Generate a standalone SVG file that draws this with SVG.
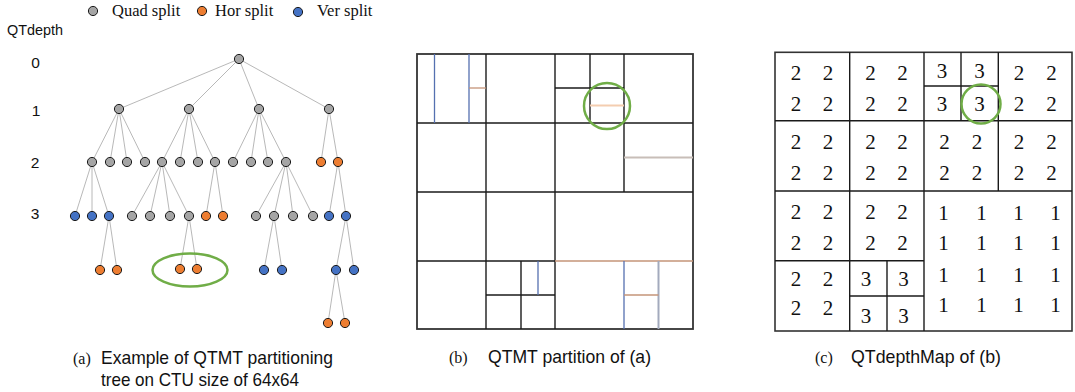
<svg xmlns="http://www.w3.org/2000/svg" width="1075" height="392" viewBox="0 0 1075 392">
<style>
.q{fill:#a5a5a5;stroke:#1a1a1a;stroke-width:1}
.h{fill:#ed7d31;stroke:#1a1a1a;stroke-width:1}
.v{fill:#4472c4;stroke:#1a1a1a;stroke-width:1}
.e{stroke:#a6a6a6;stroke-width:0.8;fill:none}
.lg{font-family:"Liberation Serif",serif;font-size:16.5px;fill:#111}
.sans{font-family:"Liberation Sans",Arial,sans-serif;fill:#111}
.k{stroke:#1a1a1a;stroke-width:1.4;fill:none}
.bl{stroke:#5570b0;stroke-width:1.3;fill:none}
.or{stroke:#c49478;stroke-width:1.3;fill:none}
.gc{stroke:#70ad47;stroke-width:2.5;fill:none}
.d{font-family:"Liberation Serif",serif;font-size:21px;fill:#111;text-anchor:middle}
.cap{font-family:"Liberation Sans",Arial,sans-serif;font-size:19px;fill:#111}
.capl{font-family:"Liberation Serif",serif;font-size:16px;fill:#111}
</style>

<g id="legend">
<circle class="q" cx="93" cy="11" r="4.6"/><text class="lg" x="112" y="16">Quad split</text>
<circle class="h" cx="202" cy="11" r="4.6"/><text class="lg" x="215" y="16">Hor split</text>
<circle class="v" cx="298" cy="12" r="4.6"/><text class="lg" x="317" y="16">Ver split</text>
</g>

<g id="depth-labels" class="sans" font-size="15.5">
<text x="7" y="35" textLength="56" lengthAdjust="spacingAndGlyphs">QTdepth</text>
<text x="35.5" y="67.5" text-anchor="middle">0</text>
<text x="36" y="115.5" text-anchor="middle">1</text>
<text x="35" y="167.5" text-anchor="middle">2</text>
<text x="35" y="218.5" text-anchor="middle">3</text>
</g>

<g id="tree-edges">
<line class="e" x1="239" y1="59" x2="119" y2="109"/>
<line class="e" x1="239" y1="59" x2="189" y2="109"/>
<line class="e" x1="239" y1="59" x2="259" y2="109"/>
<line class="e" x1="239" y1="59" x2="329" y2="109"/>
<line class="e" x1="119" y1="109" x2="92" y2="162"/>
<line class="e" x1="119" y1="109" x2="110" y2="162"/>
<line class="e" x1="119" y1="109" x2="127" y2="162"/>
<line class="e" x1="119" y1="109" x2="145" y2="162"/>
<line class="e" x1="189" y1="109" x2="162" y2="162"/>
<line class="e" x1="189" y1="109" x2="180" y2="162"/>
<line class="e" x1="189" y1="109" x2="198" y2="162"/>
<line class="e" x1="189" y1="109" x2="215" y2="162"/>
<line class="e" x1="259" y1="109" x2="233" y2="162"/>
<line class="e" x1="259" y1="109" x2="251" y2="162"/>
<line class="e" x1="259" y1="109" x2="268" y2="162"/>
<line class="e" x1="259" y1="109" x2="286" y2="162"/>
<line class="e" x1="329" y1="109" x2="321" y2="162"/>
<line class="e" x1="329" y1="109" x2="338" y2="162"/>
<line class="e" x1="92" y1="162" x2="75" y2="216"/>
<line class="e" x1="92" y1="162" x2="92" y2="216"/>
<line class="e" x1="92" y1="162" x2="109" y2="216"/>
<line class="e" x1="162" y1="162" x2="132" y2="216"/>
<line class="e" x1="162" y1="162" x2="150" y2="216"/>
<line class="e" x1="162" y1="162" x2="170" y2="216"/>
<line class="e" x1="162" y1="162" x2="189" y2="216"/>
<line class="e" x1="215" y1="162" x2="206" y2="216"/>
<line class="e" x1="215" y1="162" x2="223" y2="216"/>
<line class="e" x1="286" y1="162" x2="256" y2="216"/>
<line class="e" x1="286" y1="162" x2="274" y2="216"/>
<line class="e" x1="286" y1="162" x2="293" y2="216"/>
<line class="e" x1="286" y1="162" x2="313" y2="216"/>
<line class="e" x1="338" y1="162" x2="329" y2="216"/>
<line class="e" x1="338" y1="162" x2="346" y2="216"/>
<line class="e" x1="109" y1="216" x2="100" y2="270"/>
<line class="e" x1="109" y1="216" x2="117" y2="270"/>
<line class="e" x1="189" y1="216" x2="180" y2="269"/>
<line class="e" x1="189" y1="216" x2="197" y2="269"/>
<line class="e" x1="274" y1="216" x2="264" y2="270"/>
<line class="e" x1="274" y1="216" x2="282" y2="270"/>
<line class="e" x1="346" y1="216" x2="336" y2="270"/>
<line class="e" x1="346" y1="216" x2="354" y2="270"/>
<line class="e" x1="336" y1="270" x2="328" y2="323"/>
<line class="e" x1="336" y1="270" x2="345" y2="323"/>
</g>

<g id="tree-nodes">
<g id="n0"><circle class="q" cx="239" cy="59" r="4.6"/></g>
<g id="n1-0"><circle class="q" cx="119" cy="109" r="4.6"/></g>
<g id="n1-1"><circle class="q" cx="189" cy="109" r="4.6"/></g>
<g id="n1-2"><circle class="q" cx="259" cy="109" r="4.6"/></g>
<g id="n1-3"><circle class="q" cx="329" cy="109" r="4.6"/></g>
<g id="n2-0"><circle class="q" cx="92" cy="162" r="4.6"/></g>
<g id="n2-1"><circle class="q" cx="110" cy="162" r="4.6"/></g>
<g id="n2-2"><circle class="q" cx="127" cy="162" r="4.6"/></g>
<g id="n2-3"><circle class="q" cx="145" cy="162" r="4.6"/></g>
<g id="n2-4"><circle class="q" cx="162" cy="162" r="4.6"/></g>
<g id="n2-5"><circle class="q" cx="180" cy="162" r="4.6"/></g>
<g id="n2-6"><circle class="q" cx="198" cy="162" r="4.6"/></g>
<g id="n2-7"><circle class="q" cx="215" cy="162" r="4.6"/></g>
<g id="n2-8"><circle class="q" cx="233" cy="162" r="4.6"/></g>
<g id="n2-9"><circle class="q" cx="251" cy="162" r="4.6"/></g>
<g id="n2-10"><circle class="q" cx="268" cy="162" r="4.6"/></g>
<g id="n2-11"><circle class="q" cx="286" cy="162" r="4.6"/></g>
<g id="n2-12"><circle class="h" cx="321" cy="162" r="4.6"/></g>
<g id="n2-13"><circle class="h" cx="338" cy="162" r="4.6"/></g>
<g id="n3-0"><circle class="v" cx="75" cy="216" r="4.6"/></g>
<g id="n3-1"><circle class="v" cx="92" cy="216" r="4.6"/></g>
<g id="n3-2"><circle class="v" cx="109" cy="216" r="4.6"/></g>
<g id="n3-3"><circle class="q" cx="132" cy="216" r="4.6"/></g>
<g id="n3-4"><circle class="q" cx="150" cy="216" r="4.6"/></g>
<g id="n3-5"><circle class="q" cx="170" cy="216" r="4.6"/></g>
<g id="n3-6"><circle class="q" cx="189" cy="216" r="4.6"/></g>
<g id="n3-7"><circle class="h" cx="206" cy="216" r="4.6"/></g>
<g id="n3-8"><circle class="h" cx="223" cy="216" r="4.6"/></g>
<g id="n3-9"><circle class="q" cx="256" cy="216" r="4.6"/></g>
<g id="n3-10"><circle class="q" cx="274" cy="216" r="4.6"/></g>
<g id="n3-11"><circle class="q" cx="293" cy="216" r="4.6"/></g>
<g id="n3-12"><circle class="q" cx="313" cy="216" r="4.6"/></g>
<g id="n3-13"><circle class="v" cx="329" cy="216" r="4.6"/></g>
<g id="n3-14"><circle class="v" cx="346" cy="216" r="4.6"/></g>
<g id="n4-0"><circle class="h" cx="100" cy="270" r="4.6"/></g>
<g id="n4-1"><circle class="h" cx="117" cy="270" r="4.6"/></g>
<g id="n4-2"><circle class="h" cx="180" cy="269" r="4.6"/></g>
<g id="n4-3"><circle class="h" cx="197" cy="269" r="4.6"/></g>
<g id="n4-4"><circle class="v" cx="264" cy="270" r="4.6"/></g>
<g id="n4-5"><circle class="v" cx="282" cy="270" r="4.6"/></g>
<g id="n4-6"><circle class="v" cx="336" cy="270" r="4.6"/></g>
<g id="n4-7"><circle class="v" cx="354" cy="270" r="4.6"/></g>
<g id="n5-0"><circle class="h" cx="328" cy="323" r="4.6"/></g>
<g id="n5-1"><circle class="h" cx="345" cy="323" r="4.6"/></g>
</g>
<ellipse id="highlight-a" class="gc" cx="190" cy="270" rx="37.5" ry="16.5"/>

<g id="panel-b">
<rect x="417" y="54" width="276" height="275" fill="#fff" stroke="#333" stroke-width="1.8"/>
<line class="k" x1="555" y1="54" x2="555" y2="329"/>
<line class="k" x1="417" y1="192" x2="693" y2="192"/>
<line class="k" x1="486" y1="54" x2="486" y2="329"/>
<line class="k" x1="624" y1="54" x2="624" y2="192"/>
<line class="k" x1="417" y1="123" x2="693" y2="123"/>
<line class="k" x1="417" y1="261" x2="555" y2="261"/>
<line class="bl" x1="434.5" y1="54" x2="434.5" y2="123"/>
<line class="bl" x1="469" y1="54" x2="469" y2="123"/>
<line class="or" x1="469" y1="88" x2="486" y2="88"/>
<line class="k" x1="590" y1="54" x2="590" y2="123"/>
<line class="k" x1="555" y1="88" x2="624" y2="88"/>
<line x1="590" y1="105.5" x2="624" y2="105.5" stroke="#f4cdb0" stroke-width="2"/>
<line x1="624" y1="157.5" x2="693" y2="157.5" stroke="#c8beb8" stroke-width="2"/>
<line class="k" x1="521" y1="261" x2="521" y2="329"/>
<line class="k" x1="486" y1="295" x2="555" y2="295"/>
<line class="bl" x1="538" y1="261" x2="538" y2="295"/>
<line class="or" x1="555" y1="261" x2="693" y2="261"/>
<line class="bl" x1="624" y1="261" x2="624" y2="329"/>
<line x1="658.5" y1="261" x2="658.5" y2="329" stroke="#a3aabd" stroke-width="2"/>
<line class="or" x1="624" y1="295" x2="658.5" y2="295"/>
<circle class="gc" cx="607" cy="106" r="23"/>
</g>

<g id="panel-c">
<rect x="775" y="52.3" width="297" height="278.7" fill="#fff" stroke="#333" stroke-width="1.6"/>
<line class="k" x1="849.7" y1="52.3" x2="849.7" y2="331"/>
<line class="k" x1="924" y1="52.3" x2="924" y2="331"/>
<line class="k" x1="998.3" y1="52.3" x2="998.3" y2="191"/>
<line class="k" x1="775" y1="120.7" x2="1072" y2="120.7"/>
<line class="k" x1="775" y1="191" x2="1072" y2="191"/>
<line class="k" x1="775" y1="260.7" x2="924" y2="260.7"/>
<line class="k" x1="961" y1="52.3" x2="961" y2="120.7"/>
<line class="k" x1="924" y1="86" x2="998.3" y2="86"/>
<line class="k" x1="887" y1="260.7" x2="887" y2="331"/>
<line class="k" x1="849.7" y1="296" x2="924" y2="296"/>
<g id="c-r0">
<text class="d" x="796" y="80">2</text><text class="d" x="828" y="80">2</text>
<text class="d" x="796" y="110.5">2</text><text class="d" x="828" y="110.5">2</text>
<text class="d" x="870.5" y="80">2</text><text class="d" x="902.5" y="80">2</text>
<text class="d" x="870.5" y="110.5">2</text><text class="d" x="902.5" y="110.5">2</text>
<text class="d" x="942" y="78">3</text><text class="d" x="979.5" y="78">3</text>
<text class="d" x="942" y="111">3</text><text class="d" x="979.5" y="111">3</text>
<text class="d" x="1019" y="80">2</text><text class="d" x="1051.5" y="80">2</text>
<text class="d" x="1019" y="110.5">2</text><text class="d" x="1051.5" y="110.5">2</text>
</g>
<g id="c-r1">
<text class="d" x="796" y="149">2</text><text class="d" x="828" y="149">2</text>
<text class="d" x="796" y="179.5">2</text><text class="d" x="828" y="179.5">2</text>
<text class="d" x="870.5" y="149">2</text><text class="d" x="902.5" y="149">2</text>
<text class="d" x="870.5" y="179.5">2</text><text class="d" x="902.5" y="179.5">2</text>
<text class="d" x="944.5" y="149">2</text><text class="d" x="977" y="149">2</text>
<text class="d" x="944.5" y="179.5">2</text><text class="d" x="977" y="179.5">2</text>
<text class="d" x="1019" y="149">2</text><text class="d" x="1051.5" y="149">2</text>
<text class="d" x="1019" y="179.5">2</text><text class="d" x="1051.5" y="179.5">2</text>
</g>
<g id="c-r2">
<text class="d" x="796" y="219">2</text><text class="d" x="828" y="219">2</text>
<text class="d" x="796" y="250">2</text><text class="d" x="828" y="250">2</text>
<text class="d" x="870.5" y="219">2</text><text class="d" x="902.5" y="219">2</text>
<text class="d" x="870.5" y="250">2</text><text class="d" x="902.5" y="250">2</text>
</g>
<g id="c-r3">
<text class="d" x="796" y="286">2</text><text class="d" x="828" y="286">2</text>
<text class="d" x="796" y="315">2</text><text class="d" x="828" y="315">2</text>
<text class="d" x="866" y="285.5">3</text><text class="d" x="903.5" y="285.5">3</text>
<text class="d" x="866" y="322.5">3</text><text class="d" x="903.5" y="322.5">3</text>
</g>
<g id="c-ones">
<text class="d" x="943.5" y="219.5">1</text><text class="d" x="981.5" y="219.5">1</text><text class="d" x="1018.5" y="219.5">1</text><text class="d" x="1055.5" y="219.5">1</text>
<text class="d" x="943.5" y="250">1</text><text class="d" x="981.5" y="250">1</text><text class="d" x="1018.5" y="250">1</text><text class="d" x="1055.5" y="250">1</text>
<text class="d" x="943.5" y="282">1</text><text class="d" x="981.5" y="282">1</text><text class="d" x="1018.5" y="282">1</text><text class="d" x="1055.5" y="282">1</text>
<text class="d" x="943.5" y="312">1</text><text class="d" x="981.5" y="312">1</text><text class="d" x="1018.5" y="312">1</text><text class="d" x="1055.5" y="312">1</text>
</g>
<circle class="gc" cx="981" cy="104" r="19.5"/>
</g>

<g id="captions">
<text class="capl" x="73" y="364">(a)</text>
<text class="cap" x="101" y="364" textLength="232" lengthAdjust="spacingAndGlyphs">Example of QTMT partitioning</text>
<text class="cap" x="101" y="386" textLength="198" lengthAdjust="spacingAndGlyphs">tree on CTU size of 64x64</text>
<text class="capl" x="449" y="363">(b)</text>
<text class="cap" x="488" y="363" textLength="163" lengthAdjust="spacingAndGlyphs">QTMT partition of (a)</text>
<text class="capl" x="815" y="363">(c)</text>
<text class="cap" x="851" y="363" textLength="150" lengthAdjust="spacingAndGlyphs">QTdepthMap of (b)</text>
</g>
</svg>
